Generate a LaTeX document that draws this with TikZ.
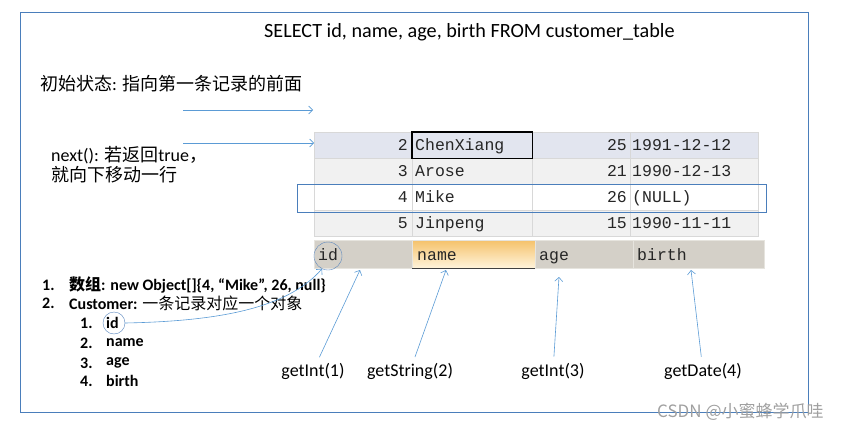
\documentclass[tikz,border=0pt]{standalone}
\usepackage{fontspec}
\setmainfont{Carlito}
\newfontfamily\cjk{Noto Sans CJK SC}
\newfontfamily\mono{Liberation Mono}
\usetikzlibrary{arrows.meta}
\definecolor{frameblue}{HTML}{4A7EBB}
\definecolor{arrblue}{HTML}{5B9BD5}
\definecolor{circblue}{HTML}{5B87BE}
\definecolor{rowblue}{HTML}{E2E5EF}
\definecolor{rowgray}{HTML}{F1F1F1}
\definecolor{cellline}{HTML}{D8D8D8}
\definecolor{hgray}{HTML}{D4D0C8}
\definecolor{hline}{HTML}{E6E4DE}
\definecolor{horange}{HTML}{F5C26B}
\definecolor{hlight}{HTML}{FFF4DC}
\definecolor{wmgray}{HTML}{A0A0A0}

\begin{document}
\begin{tikzpicture}[x=1pt,y=-1pt,>={Straight Barb[length=4pt,width=8pt]}]
  \tikzstyle{every node}=[inner sep=0pt]
  \tikzstyle{txt}=[anchor=west,font=\fontsize{18}{20}\selectfont]
  \tikzstyle{lst}=[anchor=west,font=\fontsize{16}{19}\selectfont\bfseries]
  \tikzstyle{cell}=[anchor=north west,draw=cellline,minimum height=26pt]
  \tikzstyle{hcell}=[anchor=north west,draw=hline,fill=hgray,minimum height=28pt]
  \tikzstyle{val}=[font=\mono\fontsize{16.5}{18}\selectfont,text=black!85]
  \tikzstyle{arr}=[->,draw=arrblue,line width=0.6pt]
  \useasboundingbox (0,0) rectangle (862,431);
  \draw[frameblue] (20,12) rectangle (808,412);
  \node[txt,font=\fontsize{20.2}{24}\selectfont] (sql) at (264,32) {SELECT id, name, age, birth FROM customer\_table};
  \node[txt] (init) at (40,84) {{\cjk 初始状态}: {\cjk 指向第一条记录的前面}};
  \node[txt,align=left] (nxt) at (51,165) {next(): {\cjk 若返回}true{\cjk ，}\\{\cjk 就向下移动一行}};
  \foreach \n/\y/\a/\b/\c/\d/\f in {2/132/ChenXiang/25/1991-12-12/r1/rowblue,
      3/158/Arose/21/1990-12-13/r2/rowgray, 4/184/Mike/26/(NULL)/r3/white,
      5/210/Jinpeng/15/1990-11-11/r4/rowgray}{
    \node[cell,fill=\f,minimum width=98pt] (\d-id) at (314,\y) {};
    \node[cell,fill=\f,minimum width=120pt] (\d-nm) at (412,\y) {};
    \node[cell,fill=\f,minimum width=98pt] (\d-ag) at (532,\y) {};
    \node[cell,fill=\f,minimum width=128pt] (\d-bd) at (630,\y) {};
    \node[val,anchor=base east] (\d-v1) at (408,\y+18) {\n};
    \node[val,anchor=base west] (\d-v2) at (415,\y+18) {\a};
    \node[val,anchor=base east] (\d-v3) at (627,\y+18) {\b};
    \node[val,anchor=base west] (\d-v4) at (632,\y+18) {\c};
  }
  \draw[line width=1.6pt] (r1-nm.north west) rectangle (r1-nm.south east);
  \draw[frameblue] (297,184) rectangle (766,212);
  \node[hcell,minimum width=98pt] (hid) at (314,240) {};
  \node[hcell,minimum width=123pt,top color=horange,bottom color=hlight] (hname) at (412,240) {};
  \node[hcell,minimum width=98pt] (hage) at (535,240) {};
  \node[hcell,minimum width=131pt] (hbirth) at (633,240) {};
  \draw[line width=1.6pt,black!75] (hname.south west) -- (hname.south east);
  \node[val,anchor=base west] (tid) at (318,260) {id};
  \node[val,anchor=base west] (tname) at (417,260) {name};
  \node[val,anchor=base west] (tage) at (539,260) {age};
  \node[val,anchor=base west] (tbirth) at (637,260) {birth};
  \node[draw=circblue,circle,minimum size=28pt] (cid) at (328,256) {};
  \node[lst] (l1n) at (42,285) {1.};
  \node[lst] (l1) at (69,285) {{\cjk 数组}: new Object[]\{4, “Mike”, 26, null\}};
  \node[lst] (l2n) at (42,303) {2.};
  \node[lst] (l2) at (69,303) {Customer: {\cjk\mdseries 一条记录对应一个对象}};
  \foreach \i/\t/\y in {1/id/323,2/name/343,3/age/363,4/birth/381}{
    \node[lst] (s\i n) at (80,\y) {\i.};
    \node[lst] (s\i) at (106,\y) {\t};
  }
  \node[draw=circblue,circle,minimum size=22pt] (cid2) at (114,323) {};
  \draw[arr] (cid2.east) .. controls (230,321) and (290,305) .. (cid.245);
  \coordinate (s0) at (183,110);
  \coordinate (e0) at (313,110);
  \coordinate (s1) at (183,143);
  \draw[arr] (s0) -- (e0);
  \draw[arr] (s1) -- (s1 -| r1-id.west);
  \node[txt,anchor=center] (g1) at (313,371) {getInt(1)};
  \node[txt,anchor=center] (g2) at (410,371) {getString(2)};
  \node[txt,anchor=center] (g3) at (553,371) {getInt(3)};
  \node[txt,anchor=center] (g4) at (703,371) {getDate(4)};
  \coordinate (t1) at (360,270);
  \coordinate (t2) at (446,270);
  \coordinate (t3) at (559,277);
  \coordinate (t4) at (691,270);
  \foreach \i in {1,...,4}
    \draw[arr,shorten <=6pt] (g\i) -- (t\i);
  \node[anchor=west,font=\cjk\fontsize{17}{20}\selectfont,text=wmgray] (wm) at (657,412) {CSDN @小蜜蜂学爪哇};
\end{tikzpicture}
\end{document}
